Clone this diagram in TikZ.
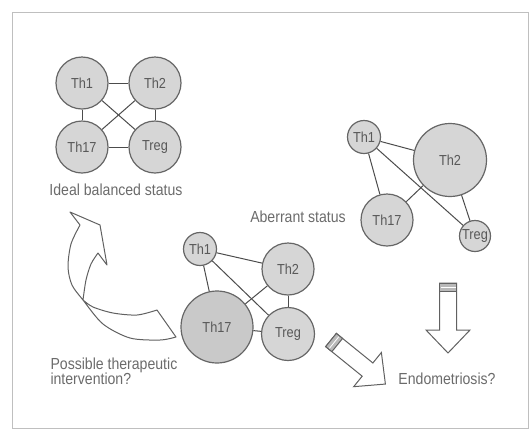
\documentclass[tikz,border=0pt]{standalone}
\usepackage{fontspec}
\newfontfamily\diagfont[FakeStretch=0.88]{Liberation Sans}
\definecolor{cellfill}{gray}{0.84}
\definecolor{celldark}{gray}{0.79}
\definecolor{cellline}{gray}{0.40}
\definecolor{celltext}{gray}{0.35}
\definecolor{linkgray}{gray}{0.30}
\definecolor{captiongray}{gray}{0.42}
\definecolor{arrowgray}{gray}{0.38}
\definecolor{framegray}{gray}{0.75}
\def\blockarrow(#1)(#2){\begin{scope}[shift={(#1)},rotate=#2]
	\draw[hollow] (0,-8.5) -- (47,-8.5) -- (47,-22) -- (70,0) -- (47,22) -- (47,8.5) -- (0,8.5) -- cycle;
	\draw[hollow, fill=gray!55] (0,-8.5) rectangle (8,8.5);
	\draw[white, line width=0.8pt] (4,-7.5) -- (4,7.5);
	\end{scope}}

\begin{document}
\begin{tikzpicture}[x=1pt, y=-1pt,
	cell/.style={circle, draw=cellline, fill=cellfill, line width=1.2pt, inner sep=0pt, minimum size=#1, font=\diagfont\fontsize{14.5}{16}\selectfont, text=celltext},
	link/.style={draw=linkgray, line width=1pt},
	caption/.style={font=\diagfont\fontsize{16}{15.5}\selectfont, text=captiongray},
	hollow/.style={draw=arrowgray, line width=1pt, fill=white, line join=miter}]
	%%%%% START %%%%%
	
	\useasboundingbox (0,0) rectangle (532,432);
	\draw[framegray, line width=1pt] (12,12) rectangle (528,428);
	
	% ideal balanced status
	\node[cell=52] (i1) at (82,83) {Th1};
	\node[cell=52] (i2) at (155,83) {Th2};
	\node[cell=52] (i17) at (82,147) {Th17};
	\node[cell=52] (ireg) at (155,147) {Treg};
	\draw[link] (i1) -- (i2);
	\draw[link] (i1) -- (i17);
	\draw[link] (i2) -- (ireg);
	\draw[link] (i17) -- (ireg);
	\draw[link] (i1) -- (ireg);
	\draw[link] (i2) -- (i17);
	\node[caption] (ideal) at (116,190) {Ideal balanced status};
	
	% aberrant status
	\node[cell=33] (a1) at (364,137) {Th1};
	\node[cell=73] (a2) at (450,160) {Th2};
	\node[cell=52] (a17) at (387,220) {Th17};
	\node[cell=31] (areg) at (475,236) {Treg};
	\draw[link] (a1) -- (a2);
	\draw[link] (a1) -- (a17);
	\draw[link] (a1) -- (areg);
	\draw[link] (a2) -- (a17);
	\draw[link] (a2) -- (areg);
	\node[caption] (aberrant) at (298,217) {Aberrant status};
	
	% middle status
	\node[cell=33] (m1) at (200,249) {Th1};
	\node[cell=52] (m2) at (288,269) {Th2};
	\node[cell=72, fill=celldark] (m17) at (217,327) {Th17};
	\node[cell=53] (mreg) at (288,334) {Treg};
	\draw[link] (m1) -- (m2);
	\draw[link] (m1) -- (m17);
	\draw[link] (m1) -- (mreg);
	\draw[link] (m2) -- (m17);
	\draw[link] (m2) -- (mreg);
	\draw[link] (m17) -- (mreg);
	
	% arrows
	\blockarrow(448,283)(-90)
	\blockarrow(331,340)(-39)
	\draw[hollow, line join=round] (70,212) -- (80,225)
		-- plot[smooth] coordinates {(80,225) (71,244) (68,267) (72,285) (83,300) (103,324) (130,338) (160,340) (176,337)}
		-- (157,310)
		-- plot[smooth] coordinates {(157,310) (137,315) (113,313) (93,307) (83,300)}
		-- plot[smooth] coordinates {(83,300) (86,280) (91,264) (98,253)}
		-- (107,265) -- (100,225) -- cycle;
	
	\node[caption, anchor=west, align=left] (therapy) at (47,371.5) {Possible therapeutic\\intervention?};
	\node[caption] (endo) at (447,379) {Endometriosis?};
	
	%%%%% END %%%%%
\end{tikzpicture}
\end{document}
